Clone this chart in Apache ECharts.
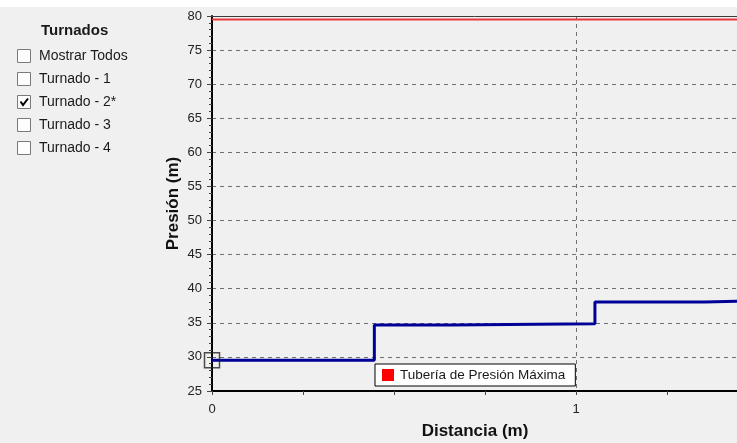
<!DOCTYPE html>
<html><head><meta charset="utf-8">
<script src="https://cdn.jsdelivr.net/npm/echarts@6/dist/echarts.min.js"></script>
<style>html,body{margin:0;padding:0;background:#f0f0f0;}#c{width:737px;height:443px;}</style>
</head><body><div id="c"></div>
<script>
// ---- data ----
var panelTitle = 'Turnados';
var turnadoLabels = ['Mostrar Todos', 'Turnado - 1', 'Turnado - 2*', 'Turnado - 3', 'Turnado - 4'];
var turnadoChecked = [false, false, true, false, false];
var stepDist = [0, 0.446, 0.658, 1.052, 1.354, 1.5];
var stepPres = [29.5, 34.68, 34.87, 38.05, 38.25, 38.25];
var maxPresDist = [0, 1.5];
var maxPresVal = [79.5, 79.5];
var maxPresName = 'Tubería de Presión Máxima';
var selName = 'Turnado - 2*';
var xTitle = 'Distancia (m)';
var yTitle = 'Presión (m)';

var FONT = "'Liberation Sans', Arial, sans-serif";
var chart = echarts.init(document.getElementById('c'), null, {renderer: 'canvas'});

var graphics = [
  {type: 'rect', shape: {x: 0, y: 0, width: 737, height: 7}, style: {fill: '#ffffff'}, silent: true, z: -10},
  {type: 'text', left: 41, top: 23, style: {text: panelTitle, font: 'bold 15px ' + FONT, fill: '#1a1a1a'}},
  {type: 'line', shape: {x1: 212, y1: 16.5, x2: 737, y2: 16.5}, style: {stroke: '#3a3a3a', lineWidth: 1}, z: 5}
];
turnadoLabels.forEach(function (lab, i) {
  var cy = 56 + i * 23;
  graphics.push({type: 'rect', shape: {x: 17.5, y: cy - 6.5, width: 13, height: 13}, style: {fill: '#fdfdfd', stroke: '#7a7a7a', lineWidth: 1}});
  graphics.push({type: 'text', x: 39, y: cy, style: {text: lab, font: '14px ' + FONT, fill: '#1a1a1a', verticalAlign: 'middle'}});
  if (turnadoChecked[i]) {
    graphics.push({type: 'polyline', shape: {points: [[20.5, cy - 0.5], [23, cy + 3], [28, cy - 3.5]]}, style: {stroke: '#000', lineWidth: 2, fill: null}});
  }
});

var option = {
  animation: false,
  backgroundColor: '#f0f0f0',
  textStyle: {fontFamily: FONT},
  grid: {left: 212, top: 16, width: 546, height: 375, containLabel: false, outerBoundsMode: 'none'},
  legend: {
    data: [maxPresName], left: 375, top: 364, orient: 'horizontal',
    backgroundColor: '#ffffff', borderColor: '#000', borderWidth: 1, borderRadius: 0,
    padding: [4, 10, 4, 7], itemWidth: 12, itemHeight: 12, icon: 'rect',
    textStyle: {fontSize: 13.5, color: '#1a1a1a', fontFamily: FONT, padding: [0, 0, 0, 1]},
    selectedMode: false
  },
  xAxis: {
    type: 'value', min: 0, max: 1.5, interval: 1,
    name: xTitle, nameLocation: 'middle', nameGap: 32, nameMoveOverlap: false,
    nameTextStyle: {fontSize: 17, fontWeight: 'bold', color: '#111', padding: [0, 20, 0, 0]},
    axisLine: {onZero: false, lineStyle: {color: '#000', width: 2}},
    axisTick: {show: true, length: 4, lineStyle: {color: '#444'}},
    minorTick: {show: true, splitNumber: 4, length: 4, lineStyle: {color: '#444'}},
    axisLabel: {fontSize: 13, color: '#222', margin: 12, showMaxLabel: false},
    splitLine: {show: true, lineStyle: {color: '#707070', type: [4, 4], width: 1}}
  },
  yAxis: {
    type: 'value', min: 25, max: 80, interval: 5,
    name: yTitle, nameLocation: 'middle', nameGap: 30, nameMoveOverlap: false,
    nameTextStyle: {fontSize: 17, fontWeight: 'bold', color: '#111'},
    axisLine: {onZero: false, lineStyle: {color: '#000', width: 2}},
    axisTick: {show: true, length: 5, lineStyle: {color: '#444'}},
    minorTick: {show: true, splitNumber: 5, length: 3, lineStyle: {color: '#444'}},
    axisLabel: {fontSize: 13, color: '#222', margin: 10},
    splitLine: {show: true, lineStyle: {color: '#707070', type: [4, 4], width: 1}}
  },
  series: [
    {
      name: maxPresName, type: 'line', symbol: 'none', silent: true,
      data: maxPresDist.map(function (d, i) { return [d, maxPresVal[i]]; }),
      lineStyle: {color: '#e8383c', width: 2}, itemStyle: {color: '#ff0000'}, z: 3
    },
    {
      name: selName, type: 'line', step: 'end', symbol: 'none', silent: true,
      data: stepDist.map(function (d, i) { return [d, stepPres[i]]; }),
      lineStyle: {color: '#000099', width: 3}, itemStyle: {color: '#000099'}, z: 4
    },
    {
      name: 'sel', type: 'scatter', clip: false, silent: true,
      data: [[stepDist[0], stepPres[0]]],
      symbol: 'rect', symbolSize: 15,
      itemStyle: {color: 'rgba(0,0,0,0)', borderColor: '#222', borderWidth: 1.5}, z: 6
    }
  ],
  graphic: graphics
};
chart.setOption(option);
</script></body></html>
